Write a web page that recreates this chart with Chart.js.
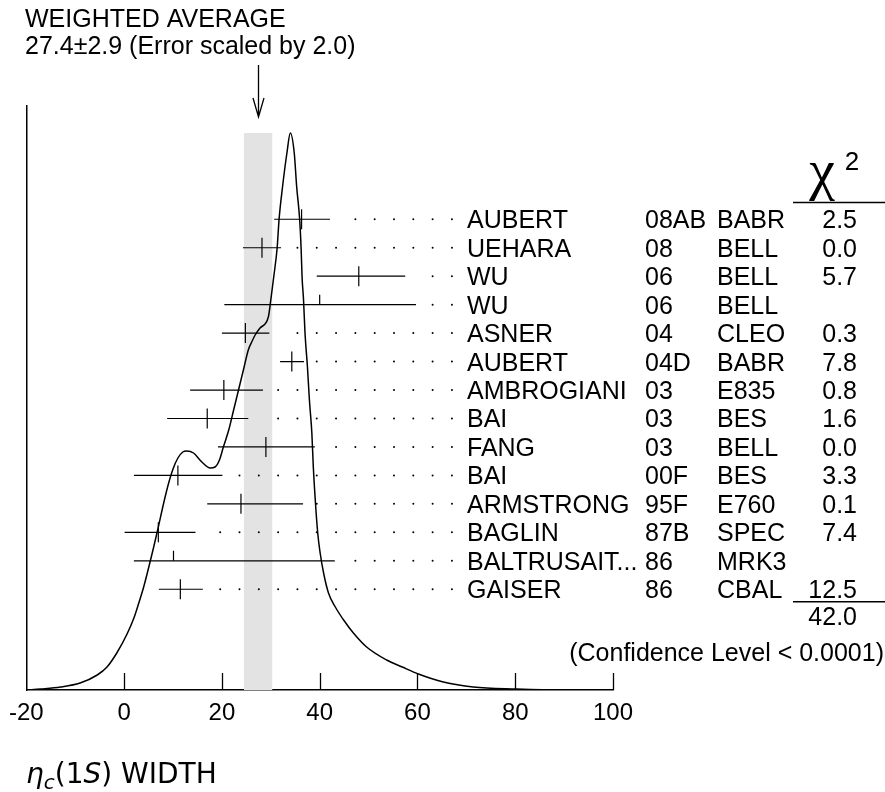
<!DOCTYPE html>
<html>
<head>
<meta charset="utf-8">
<script src="https://cdn.jsdelivr.net/npm/chart.js@4/dist/chart.umd.min.js"></script>
<style>
  html, body { margin: 0; padding: 0; background: #fff; }
  #wrap { width: 885px; height: 792px; }
</style>
</head>
<body>
<div id="wrap"><canvas id="ideogram"></canvas></div>
<script>
// measurements, one entry per row (top to bottom)
const authors = ["AUBERT", "UEHARA", "WU", "WU", "ASNER", "AUBERT", "AMBROGIANI", "BAI", "FANG", "BAI", "ARMSTRONG", "BAGLIN", "BALTRUSAIT...", "GAISER"];
const years = ["08AB", "08", "06", "06", "04", "04D", "03", "03", "03", "00F", "95F", "87B", "86", "86"];
const experiments = ["BABR", "BELL", "BELL", "BELL", "CLEO", "BABR", "E835", "BES", "BELL", "BES", "E760", "SPEC", "MRK3", "CBAL"];
const centers = [36.3, 28.2, 48.0, 40.0, 24.8, 34.3, 20.4, 17.0, 29.0, 11.0, 23.9, 7.0, 10.1, 11.5];
const lows = [30.7, 24.3, 39.4, 20.5, 20.0, 31.9, 13.5, 8.8, 19.2, 2.0, 17.0, 0.1, 2.0, 7.1];
const highs = [42.1, 32.1, 57.5, 59.7, 29.7, 36.8, 28.4, 25.4, 39.0, 20.1, 36.6, 14.6, 43.1, 16.1];
const usedInFit = [true, true, true, false, true, true, true, true, true, true, true, true, false, true];
const chi2 = ["2.5", "0.0", "5.7", "", "0.3", "7.8", "0.8", "1.6", "0.0", "3.3", "0.1", "7.4", "", "12.5"];
const chi2Total = "42.0";

// weighted average
const avgValue = 27.4;
const avgError = 2.9;

// ideogram curve (arbitrary height units)
const curveX = [-19.9, -17.1, -13.0, -9.0, -5.5, -3.5, -1.5, 0.6, 2.0, 3.0, 4.0, 5.0, 6.0, 7.0, 8.0, 9.0, 10.0, 11.0, 12.0, 12.8,
  14.2, 15.9, 17.6, 18.6, 19.5, 20.3, 21.4, 22.4, 23.4, 24.4, 25.4, 26.1, 26.8, 27.8, 29.5, 30.0, 30.6, 31.3, 31.7, 32.4,
  33.3, 34.0, 34.8, 35.3, 35.9, 36.2, 36.4, 36.7, 37.0, 37.5, 37.9, 38.4, 38.7, 39.1, 39.6, 40.1, 40.8, 41.8, 43.2, 44.9,
  46.9, 49.6, 53.7, 56.9, 60.2, 65.3, 71.4, 80.3, 89.2, 100.0];
const curveY = [0.00, 0.01, 0.03, 0.07, 0.15, 0.23, 0.37, 0.56, 0.72, 0.87, 1.03, 1.22, 1.42, 1.63, 1.85, 2.05, 2.21, 2.32, 2.38, 2.39,
  2.37, 2.28, 2.22, 2.23, 2.30, 2.43, 2.60, 2.80, 3.00, 3.20, 3.40, 3.48, 3.55, 3.62, 3.73, 3.90, 4.13, 4.42, 4.71, 5.03,
  5.37, 5.57, 5.37, 5.03, 4.71, 4.42, 4.13, 3.90, 3.57, 3.23, 2.90, 2.57, 2.23, 1.90, 1.57, 1.37, 1.17, 0.97, 0.83, 0.70,
  0.57, 0.43, 0.30, 0.23, 0.16, 0.08, 0.03, 0.01, 0.00, 0.00];

const xTicks = [-20, 0, 20, 40, 60, 80, 100];

const FONT = "'Liberation Sans', Arial, sans-serif";

// build datasets from the arrays
const curveData = curveX.map((x, i) => ({ x: x, y: curveY[i] }));

const barData = [];
lows.forEach((lo, i) => {
    barData.push({ x: lo, y: i });
    barData.push({ x: highs[i], y: i });
    barData.push({ x: highs[i], y: null });   // break the line between rows
});

const centerData = centers.map((c, i) => ({ x: c, y: i }));

// leader dots sit on a fixed grid to the right of each bar
const dotData = [];
highs.forEach((hi, i) => {
    for (let k = -8; k <= 11; k++) {
        let gx = 23.6 + 3.95 * k;
        if (gx > hi + 2.6 && gx < 67.5) dotData.push({ x: gx, y: i });
    }
});

// grey band for the weighted average and everything drawn around the plot
const ideogramDecor = {
    id: 'ideogramDecor',
    beforeDatasetsDraw: function(chart) {
        const ctx = chart.ctx, xs = chart.scales.x, ys = chart.scales.y;
        const x0 = xs.getPixelForValue(avgValue - avgError);
        const x1 = xs.getPixelForValue(avgValue + avgError);
        const top = ys.getPixelForValue(5.57);
        ctx.save();
        ctx.fillStyle = '#e3e3e3';
        ctx.fillRect(x0, top, x1 - x0, chart.chartArea.bottom - top);
        ctx.restore();
    },
    afterDraw: function(chart) {
        const ctx = chart.ctx, xs = chart.scales.x, rows = chart.scales.yRows;
        const area = chart.chartArea;
        ctx.save();
        ctx.fillStyle = '#000';
        ctx.strokeStyle = '#000';
        ctx.lineWidth = 1.3;

        // tick marks pointing up from the axis
        xTicks.forEach(v => {
            if (v === xTicks[0]) return;
            const px = Math.round(xs.getPixelForValue(v)) + 0.5;
            ctx.beginPath();
            ctx.moveTo(px, area.bottom);
            ctx.lineTo(px, area.bottom - 17);
            ctx.stroke();
        });

        // header + arrow
        ctx.font = '25px ' + FONT;
        ctx.textAlign = 'left';
        ctx.textBaseline = 'alphabetic';
        ctx.fillText('WEIGHTED AVERAGE', 25, 27);
        ctx.fillText(avgValue + '\u00b1' + avgError + ' (Error scaled by 2.0)', 25, 54);

        const ax = Math.round(xs.getPixelForValue(avgValue)) + 0.5;
        ctx.beginPath();
        ctx.moveTo(ax, 65);
        ctx.lineTo(ax, 117);
        ctx.moveTo(ax - 5.5, 98);
        ctx.lineTo(ax, 117);
        ctx.lineTo(ax + 5.5, 98);
        ctx.stroke();

        // chi squared heading
        ctx.font = '58px "Liberation Serif", serif';
        ctx.textAlign = 'center';
        ctx.fillText('\u03c7', 822, 189);
        ctx.font = '26px ' + FONT;
        ctx.fillText('2', 852, 170);
        ctx.beginPath();
        ctx.moveTo(793, 202.5);
        ctx.lineTo(885, 202.5);
        ctx.stroke();

        // row labels
        ctx.font = '25px ' + FONT;
        authors.forEach((name, i) => {
            const py = rows.getPixelForValue(i) + 9;
            ctx.textAlign = 'left';
            ctx.fillText(name, 467, py);
            ctx.fillText(years[i], 645, py);
            ctx.fillText(experiments[i], 717, py);
            ctx.textAlign = 'right';
            ctx.fillText(chi2[i], 857, py);
        });

        // total
        const lastY = rows.getPixelForValue(authors.length - 1);
        ctx.beginPath();
        ctx.moveTo(793, lastY + 12.5);
        ctx.lineTo(885, lastY + 12.5);
        ctx.stroke();
        ctx.textAlign = 'right';
        ctx.fillText(chi2Total, 857, lastY + 36);
        ctx.fillText('(Confidence Level < 0.0001)', 884, lastY + 72);

        // axis title: eta_c(1S) WIDTH
        let tx = 26;
        const ty = 783;
        ctx.textAlign = 'left';
        const parts = [
            ['italic 28px "DejaVu Sans"', '\u03b7', 0],
            ['italic 20px "DejaVu Sans"', 'c', 6],
            ['28px "DejaVu Sans"', '(1', 0],
            ['italic 28px "DejaVu Sans"', 'S', 0],
            ['28px "DejaVu Sans"', ') WIDTH', 0]
        ];
        parts.forEach(p => {
            ctx.font = p[0];
            ctx.fillText(p[1], tx, ty + p[2]);
            tx += ctx.measureText(p[1]).width;
        });
        ctx.restore();
    }
};

new Chart(document.getElementById('ideogram'), {
    type: 'line',
    data: {
        datasets: [
            {
                // ideogram
                type: 'line',
                data: curveData,
                borderColor: '#000',
                borderWidth: 1.5,
                pointRadius: 0,
                cubicInterpolationMode: 'monotone',
                xAxisID: 'x',
                yAxisID: 'y',
                order: 1
            },
            {
                // error bars
                type: 'line',
                data: barData,
                borderColor: '#000',
                borderWidth: 1.2,
                pointRadius: 0,
                spanGaps: false,
                xAxisID: 'x',
                yAxisID: 'yRows',
                order: 2
            },
            {
                // central values
                type: 'scatter',
                data: centerData,
                borderColor: '#000',
                borderWidth: 1.2,
                pointStyle: usedInFit.map(u => u ? 'line' : 'dash'),
                rotation: usedInFit.map(u => u ? 90 : -90),
                pointRadius: 10,
                xAxisID: 'x',
                yAxisID: 'yRows',
                order: 3
            },
            {
                // leader dots
                type: 'scatter',
                data: dotData,
                backgroundColor: '#000',
                borderWidth: 0,
                pointRadius: 1,
                xAxisID: 'x',
                yAxisID: 'yRows',
                order: 4
            }
        ]
    },
    plugins: [ideogramDecor],
    options: {
        responsive: true,
        maintainAspectRatio: false,
        animation: false,
        layout: { padding: { left: 26, right: 272, top: 106, bottom: 0 } },
        plugins: {
            legend: { display: false },
            tooltip: { enabled: false }
        },
        scales: {
            x: {
                type: 'linear',
                min: -20,
                max: 100,
                afterFit: function(scale) { scale.height = 102; },
                afterBuildTicks: function(scale) { scale.ticks = xTicks.map(v => ({ value: v })); },
                grid: { display: false, drawTicks: false },
                border: { display: true, color: '#000', width: 1.5 },
                ticks: {
                    color: '#000',
                    padding: 9,
                    font: { family: FONT, size: 24 },
                    maxRotation: 0
                }
            },
            y: {
                type: 'linear',
                min: 0,
                max: 5.84,
                afterFit: function(scale) { scale.width = 0; },
                grid: { display: false, drawTicks: false },
                border: { display: true, color: '#000', width: 1.5 },
                ticks: { display: false }
            },
            yRows: {
                type: 'linear',
                axis: 'y',
                position: 'right',
                reverse: true,
                min: -3.98,
                max: 16.54,
                display: false
            }
        }
    }
});
</script>
</body>
</html>
